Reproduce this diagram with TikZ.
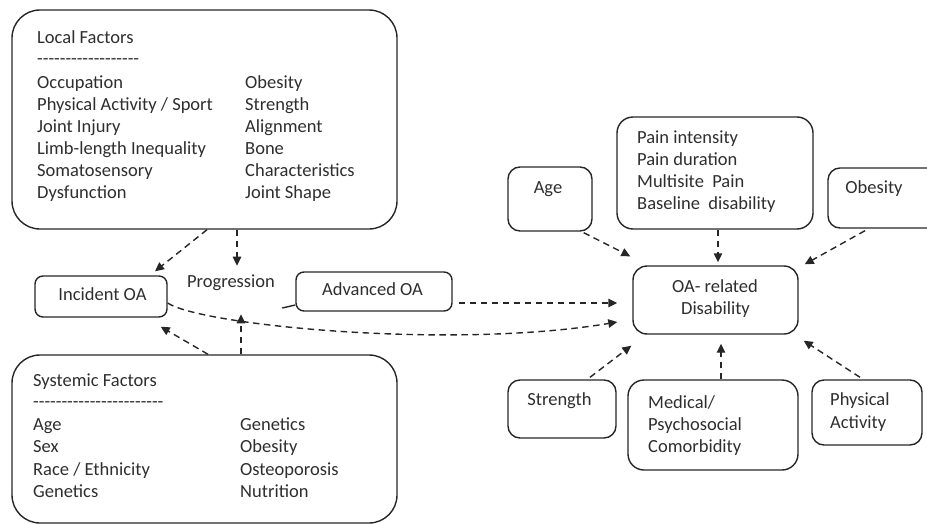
\documentclass[tikz,border=0pt]{standalone}
\usepackage{fontspec}
\setmainfont{Carlito}
\usetikzlibrary{arrows.meta}
\begin{document}
\begin{tikzpicture}[x=1pt,y=-1pt,
  box/.style={draw=black!85, line width=1.4pt, rounded corners=#1, inner sep=0pt},
  box/.default=9pt,
  conn/.style={draw=black!85, line width=1.4pt, dash pattern=on 6.5pt off 4.5pt,
    -{Triangle[length=9pt,width=8.5pt]}},
  txt/.style={anchor=base west, inner sep=0pt, font=\fontsize{18.5}{22}\selectfont, text=black!82},
  ctxt/.style={anchor=base, inner sep=0pt, font=\fontsize{18.5}{22}\selectfont, text=black!82}]
\clip (0,0) rectangle (927,525);

% ---------- boxes ----------
\node[box=28pt, minimum width=385pt, minimum height=219pt] (local) at (204.5,119.5) {};
\node[box=28pt, minimum width=385pt, minimum height=168pt] (systemic) at (204.5,439) {};
\node[box=8pt, minimum width=132pt, minimum height=41pt] (incident) at (101,296.5) {};
\node[box=8pt, minimum width=156pt, minimum height=39pt] (advanced) at (374,291.5) {};
\node[box=16pt, minimum width=196pt, minimum height=112pt] (pain) at (715,173) {};
\node[box=12pt, minimum width=84pt, minimum height=64pt] (age) at (550,199) {};
\node[box=12pt, minimum width=122pt, minimum height=60pt] (obesity) at (889,198) {};
\node[box=14pt, minimum width=165pt, minimum height=68pt] (oadis) at (715.5,300) {};
\node[box=12pt, minimum width=108pt, minimum height=58pt] (strength) at (562,409) {};
\node[box=16pt, minimum width=170pt, minimum height=90pt] (medical) at (713,425) {};
\node[box=12pt, minimum width=110pt, minimum height=65pt] (physical) at (867,412.5) {};

% ---------- texts: Local Factors ----------
\node[txt] (lftitle) at (37,43) {Local Factors};
\node[txt] (lfrule) at (37,64) {-{}-{}-{}-{}-{}-{}-{}-{}-{}-{}-{}-{}-{}-{}-{}-{}-{}-};
\foreach \t [count=\i from 0] in {Occupation, Physical Activity / Sport, Joint Injury,
    Limb-length Inequality, Somatosensory, Dysfunction}
  \node[txt] (lfa\i) at (37,{88+22*\i}) {\t};
\foreach \t [count=\i from 0] in {Obesity, Strength, Alignment, Bone, Characteristics, Joint Shape}
  \node[txt] (lfb\i) at (245,{88+22*\i}) {\t};

% ---------- texts: Systemic Factors ----------
\node[txt] (sftitle) at (33,386) {Systemic Factors};
\node[txt] (sfrule) at (33,407) {-{}-{}-{}-{}-{}-{}-{}-{}-{}-{}-{}-{}-{}-{}-{}-{}-{}-{}-{}-{}-{}-{}-};
\foreach \t [count=\i from 0] in {Age, Sex, Race / Ethnicity, Genetics}
  \node[txt] (sfa\i) at (33,{430+22.5*\i}) {\t};
\foreach \t [count=\i from 0] in {Genetics, Obesity, Osteoporosis, Nutrition}
  \node[txt] (sfb\i) at (240,{430+22.5*\i}) {\t};

% ---------- other texts ----------
\node[ctxt] (incidenttxt) at (102.5,300) {Incident OA};
\node[ctxt] (prog) at (231,287) {Progression};
\node[ctxt] (advancedtxt) at (372.5,295) {Advanced OA};
\foreach \t [count=\i from 0] in {Pain intensity, Pain duration, Multisite\ \ Pain, Baseline\ \ disability}
  \node[txt] (pt\i) at (637,{143+22.3*\i}) {\t};
\node[ctxt] (agetxt) at (548,193) {Age};
\node[ctxt] (obesitytxt) at (874,193) {Obesity};
\node[ctxt] (oadis1) at (715,292) {OA- related};
\node[ctxt] (oadis2) at (715.5,314) {Disability};
\node[ctxt] (strengthtxt) at (559.5,405) {Strength};
\foreach \t [count=\i from 0] in {Medical/, Psychosocial, Comorbidity}
  \node[txt] (md\i) at (648,{408+22*\i}) {\t};
\foreach \t [count=\i from 0] in {Physical, Activity}
  \node[txt] (ph\i) at (830,{405+23*\i}) {\t};

% ---------- connectors ----------
\draw[conn] ([xshift=2.5pt]local.south) -- ([xshift=54pt,yshift=4pt]incident.north);
\draw[conn] ([xshift=32.5pt]local.south) -- ([xshift=32.5pt,yshift=-36pt]local.south);
\draw[conn] ([xshift=3.5pt]systemic.north) -- ([xshift=-7pt,yshift=-9pt]incident.south east);
\draw[conn] ([xshift=36.5pt]systemic.north) -- ([xshift=36.5pt,yshift=40pt]systemic.north);
\draw[conn] ([yshift=-6.5pt]incident.east) .. controls (200,325) and (450,350) .. ([xshift=-15pt,yshift=-22pt]oadis.west);
\draw[conn] ([xshift=6pt,yshift=-11.5pt]advanced.east) -- ([xshift=-15pt,yshift=-3pt]oadis.west);
\draw[draw=black!85, line width=1.4pt] ([yshift=-13.5pt]advanced.west) -- ++(-13,3);
\draw[conn] ([xshift=-9pt,yshift=-1pt]age.south east) -- ([xshift=-2pt,yshift=9pt]oadis.north west);
\draw[conn] ([xshift=3pt]pain.south) -- ([xshift=2.5pt,yshift=3pt]oadis.north);
\draw[conn] ([xshift=-24pt,yshift=-2pt]obesity.south) -- ([xshift=6pt,yshift=1pt]oadis.north east);
\draw[conn] ([xshift=28pt,yshift=2pt]strength.north) -- ([xshift=-1pt,yshift=-11pt]oadis.south west);
\draw[conn] ([xshift=8pt]medical.north) -- ([xshift=5.5pt,yshift=-9pt]oadis.south);
\draw[conn] ([xshift=-7pt,yshift=2pt]physical.north) -- ([xshift=5pt,yshift=-6pt]oadis.south east);
\end{tikzpicture}
\end{document}
